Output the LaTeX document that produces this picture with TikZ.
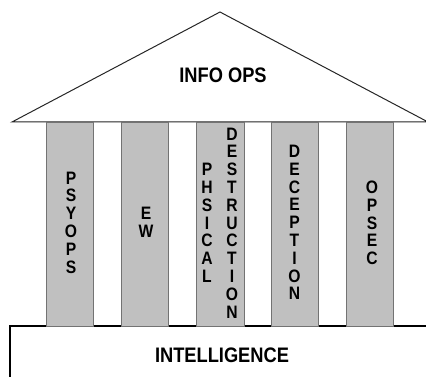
\documentclass[tikz,border=0pt]{standalone}
\usepackage{fontspec}
\setmainfont[FakeStretch=0.87]{Liberation Sans}
\definecolor{pillarfill}{RGB}{192,192,192}
\definecolor{pillaredge}{RGB}{115,115,115}
\begin{document}
\begin{tikzpicture}[x=1pt,y=-1pt,
  pillarbox/.style={draw=pillaredge, fill=pillarfill, line width=1pt, minimum width=47pt, minimum height=203pt, inner sep=0pt},
  stack/.style={font=\bfseries\fontsize{18}{17.8}\selectfont, align=center, inner sep=0pt},
  titletext/.style={font=\bfseries\fontsize{21}{24}\selectfont, inner sep=0pt}]
\useasboundingbox (0,0) rectangle (426,377);
% roof
\coordinate (roofL) at (12,122);
\coordinate (roofT) at (220,12);
\coordinate (roofR) at (428,122);
\draw[fill=white, line width=1pt, draw=black!85] (roofL) -- (roofT) -- (roofR) -- cycle;
\node[titletext] (infoops) at (223,75) {INFO OPS};
% base
\coordinate (baseBL) at (10,380);
\coordinate (baseTL) at (10,326);
\coordinate (baseTR) at (428,326);
\draw[line width=1.2pt] (baseBL) -- (baseTL) -- (baseTR);
\node[titletext] (intel) at (222,355) {INTELLIGENCE};
% pillars
\node[pillarbox] (p1) at (70,224.5) {};
\node[pillarbox] (p2) at (145,224.5) {};
\node[pillarbox, minimum width=48pt] (p3) at (220,224.5) {};
\node[pillarbox] (p4) at (294.5,224.5) {};
\node[pillarbox] (p5) at (370,224.5) {};
% pillar texts
\node[stack] (t1) at (71,222.5) {P\\S\\Y\\O\\P\\S};
\node[stack] (t2) at (146,222.5) {E\\W};
\node[stack] (t3a) at (207,223) {P\\H\\S\\I\\C\\A\\L};
\node[stack] (t3b) at (232,223) {D\\E\\S\\T\\R\\U\\C\\T\\I\\O\\N};
\node[stack] (t4) at (294.5,222.5) {D\\E\\C\\E\\P\\T\\I\\O\\N};
\node[stack] (t5) at (372,223) {O\\P\\S\\E\\C};
\end{tikzpicture}
\end{document}
